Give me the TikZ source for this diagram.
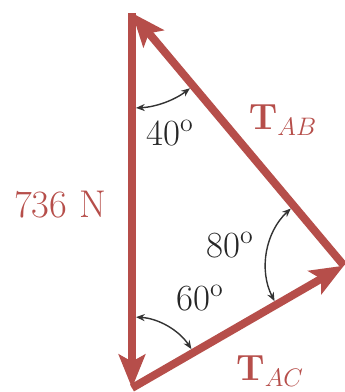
\documentclass[tikz,border=0pt]{standalone}
\usetikzlibrary{arrows.meta}
\definecolor{forcered}{RGB}{182,78,74}

\begin{document}
\begin{tikzpicture}[line join=miter]
  \tikzset{
    force/.style={line width=4.5pt, draw=forcered, -{Stealth[length=19pt, width=15pt, inset=4pt]}},
    anglearc/.style={line width=0.8pt, draw=black!80, {Stealth[length=5pt, width=4pt]}-{Stealth[length=5pt, width=4pt]}},
    forcelabel/.style={text=forcered, font=\fontsize{22pt}{26pt}\selectfont},
    anglelabel/.style={text=black!85, font=\fontsize{21pt}{25pt}\selectfont}
  }
  \useasboundingbox (0,0) rectangle (6.9,7.84);

  \coordinate (top) at (2.64,7.58);
  \coordinate (bottom) at (2.64,0.08);
  \coordinate (corner) at ([shift={(30:4.895)}]bottom);

  % angle arcs
  \draw[anglearc] ([shift={(272.4:1.9)}]top) arc[start angle=272.4, end angle=307.6, radius=1.9cm];
  \draw[anglearc] ([shift={(86.8:1.42)}]bottom) arc[start angle=86.8, end angle=33.2, radius=1.42cm];
  \draw[anglearc] ([shift={(132.9:1.56)}]corner) arc[start angle=132.9, end angle=207.1, radius=1.56cm];

  % force triangle
  \draw[force] (top) -- (bottom);
  \draw[force] (bottom) -- (corner);
  \draw[force] (corner) -- (top);

  \node[forcelabel] (weight) at (1.2,3.74) {736 N};
  \node[forcelabel] (tab) at (5.66,5.44) {$\mathbf{T}_{AB}$};
  \node[forcelabel] (tac) at (5.4,0.42) {$\mathbf{T}_{AC}$};
  \node[anglelabel] (ang40) at (3.4,5.18) {40\textsuperscript{o}};
  \node[anglelabel] (ang80) at (4.6,2.94) {80\textsuperscript{o}};
  \node[anglelabel] (ang60) at (4.0,1.88) {60\textsuperscript{o}};
\end{tikzpicture}
\end{document}
